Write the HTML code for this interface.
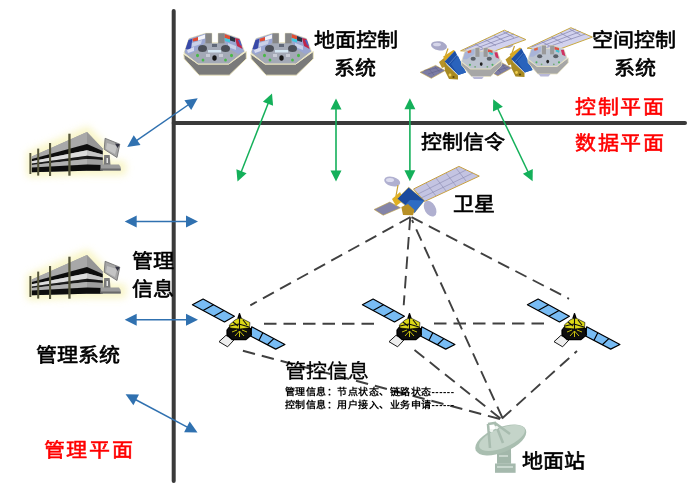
<!DOCTYPE html><html lang="zh-CN"><head><meta charset="utf-8"><style>
html,body{margin:0;padding:0;background:#fff;width:698px;height:490px;overflow:hidden}
body{position:relative;font-family:"Liberation Sans",sans-serif}
.t{position:absolute;white-space:nowrap;font-weight:400;-webkit-text-stroke:0.65px #000;color:#000;font-size:21px;line-height:21px;transform:scaleY(0.93);transform-origin:0 0}
.m{-webkit-text-stroke:0.3px #000}
.s{position:absolute;white-space:nowrap;font-weight:700;color:#000;font-size:10px;line-height:10px;letter-spacing:0.5px;transform:scaleY(0.9);transform-origin:0 0}
.r{color:#ff0000;-webkit-text-stroke:0.55px #ff0000;letter-spacing:1.6px}
svg{position:absolute;left:0;top:0}
</style></head><body>
<svg width="698" height="490" viewBox="0 0 698 490">
<defs><filter id="glow" x="-30%" y="-50%" width="160%" height="200%"><feGaussianBlur stdDeviation="3.5"/></filter>
<filter id="soft" x="-5%" y="-5%" width="110%" height="110%"><feGaussianBlur stdDeviation="0.4"/></filter></defs>
<line x1="173.7" y1="11" x2="173.7" y2="481" stroke="#3a3a3a" stroke-width="4" stroke-linecap="round"/>
<line x1="173.7" y1="123" x2="685" y2="123" stroke="#3a3a3a" stroke-width="4" stroke-linecap="round"/>
<line x1="135.4" y1="141.3" x2="189.5" y2="104.0" stroke="#3071b0" stroke-width="1.5"/><polygon points="197.7,98.3 191.2,110.1 184.4,100.2" fill="#3071b0"/><polygon points="127.2,147.0 133.7,135.2 140.5,145.1" fill="#3071b0"/>
<line x1="134.7" y1="221.6" x2="188.0" y2="221.6" stroke="#3071b0" stroke-width="1.5"/><polygon points="198.0,221.6 186.0,227.6 186.0,215.6" fill="#3071b0"/><polygon points="124.7,221.6 136.7,215.6 136.7,227.6" fill="#3071b0"/>
<line x1="134.7" y1="319.8" x2="188.0" y2="319.8" stroke="#3071b0" stroke-width="1.5"/><polygon points="198.0,319.8 186.0,325.8 186.0,313.8" fill="#3071b0"/><polygon points="124.7,319.8 136.7,313.8 136.7,325.8" fill="#3071b0"/>
<line x1="134.4" y1="399.0" x2="188.7" y2="427.8" stroke="#3071b0" stroke-width="1.5"/><polygon points="197.5,432.5 184.1,432.2 189.7,421.6" fill="#3071b0"/><polygon points="125.6,394.3 139.0,394.6 133.4,405.2" fill="#3071b0"/>
<line x1="240.8" y1="173.1" x2="268.7" y2="101.9" stroke="#14b05a" stroke-width="1.5"/><polygon points="272.0,93.5 273.1,105.7 262.9,101.7" fill="#14b05a"/><polygon points="237.5,181.5 236.4,169.3 246.6,173.3" fill="#14b05a"/>
<line x1="336.0" y1="172.5" x2="336.0" y2="107.5" stroke="#14b05a" stroke-width="1.6"/><polygon points="336.0,98.5 341.5,109.5 330.5,109.5" fill="#14b05a"/><polygon points="336.0,181.5 330.5,170.5 341.5,170.5" fill="#14b05a"/>
<line x1="409.9" y1="172.3" x2="409.9" y2="107.3" stroke="#14b05a" stroke-width="1.6"/><polygon points="409.9,98.3 415.4,109.3 404.4,109.3" fill="#14b05a"/><polygon points="409.9,181.3 404.4,170.3 415.4,170.3" fill="#14b05a"/>
<line x1="528.7" y1="173.2" x2="497.1" y2="107.3" stroke="#14b05a" stroke-width="1.5"/><polygon points="493.2,99.2 502.9,106.7 493.0,111.5" fill="#14b05a"/><polygon points="532.6,181.3 522.9,173.8 532.8,169.0" fill="#14b05a"/>
<line x1="410.5" y1="217" x2="250.3" y2="305.3" stroke="#404040" stroke-width="1.9" stroke-dasharray="12.5,7" fill="none"/>
<line x1="410.2" y1="217.6" x2="403.7" y2="305.3" stroke="#404040" stroke-width="1.9" stroke-dasharray="12.5,7" fill="none"/>
<line x1="411.5" y1="217.2" x2="569" y2="298.8" stroke="#404040" stroke-width="1.9" stroke-dasharray="12.5,7" fill="none"/>
<line x1="502.5" y1="418" x2="412" y2="220" stroke="#404040" stroke-width="1.9" stroke-dasharray="12.5,7" fill="none"/>
<line x1="264" y1="323.7" x2="381" y2="323.7" stroke="#404040" stroke-width="1.9" stroke-dasharray="12.5,7" fill="none"/>
<line x1="434" y1="323.5" x2="546" y2="323.5" stroke="#404040" stroke-width="1.9" stroke-dasharray="12.5,7" fill="none"/>
<line x1="500" y1="419" x2="240" y2="350" stroke="#404040" stroke-width="1.9" stroke-dasharray="12.5,7" fill="none"/>
<line x1="500.5" y1="418.5" x2="414.5" y2="350" stroke="#404040" stroke-width="1.9" stroke-dasharray="12.5,7" fill="none"/>
<line x1="502" y1="418.5" x2="577" y2="351" stroke="#404040" stroke-width="1.9" stroke-dasharray="12.5,7" fill="none"/>
<g filter="url(#soft)">
<g transform="translate(180,28)">
<polygon points="3.7,26 4.2,30.8 19.1,47.2 49.3,47.2 66.3,30.8 66.3,23.5 48.8,36 18,36" fill="#7a7a7a" stroke="#ece6c2" stroke-width="1"/>
<polygon points="4,25 9,10.6 25.5,5.3 31.8,5.3 31.8,14.8 38.2,14.8 38.2,5.3 44.5,5.3 59.4,10.6 64.5,23.5 48.8,36 18,36" fill="#a3a9b6" stroke="#ece6c2" stroke-width="1"/>
<polygon points="4.5,24 9,10.8 25.5,5.6 25.5,14 19,21 9,27" fill="#9aa6d2"/>
<polygon points="5.5,21 8.5,12 12.5,10.8 10.5,22" fill="#3848a8"/>
<polygon points="12.5,10.8 18,9 18,12.5 13,13.5" fill="#e04a30"/>
<polygon points="18,9 25,6.5 25,10.5 18,12.5" fill="#f4f4fa"/>
<polygon points="12,15 22,12 21,16 12,19" fill="#c8d0e8"/>
<polygon points="7,22 14,19 14,23 8,25" fill="#d8dcf0"/>
<polygon points="44.5,5.6 59.4,10.8 64,23.5 58,26 50,21 44.5,14" fill="#9aa6d2"/>
<polygon points="44.5,6 50,8 50,11.5 44.5,10" fill="#e05030"/>
<polygon points="44.5,10 50,11.5 50,14.5 45,13" fill="#40c8e0"/>
<polygon points="50,8 55,10 55,14 50,12.5" fill="#2a3040"/>
<polygon points="55,10 59.4,11 62.5,21 57,18" fill="#c02848"/>
<polygon points="58,12 60,12 62,18 60,17" fill="#5060c0"/>
<polygon points="48,15 56,18 56,22 48,19" fill="#c8d0e8"/>
<rect x="25.5" y="5.3" width="6.3" height="10" fill="#868686"/>
<rect x="38.2" y="5.3" width="6.3" height="10" fill="#868686"/>
<ellipse cx="22.5" cy="20.5" rx="4.5" ry="3.6" fill="#4c5058"/>
<ellipse cx="45.5" cy="20.5" rx="4.5" ry="3.6" fill="#4c5058"/>
<rect x="32" y="16" width="5" height="3" fill="#606878"/>
<ellipse cx="34.5" cy="30" rx="2.2" ry="2.7" fill="#151515"/>
<rect x="28" y="22" width="13" height="2.5" fill="#d4e6f2"/>
<ellipse cx="17.5" cy="27.5" rx="1.5" ry="1.8" fill="#48b848"/>
<ellipse cx="23" cy="32" rx="1.4" ry="1.6" fill="#48b848"/>
<ellipse cx="45.5" cy="32" rx="1.4" ry="1.6" fill="#48b848"/>
<ellipse cx="51.5" cy="27.5" rx="1.5" ry="1.8" fill="#48b848"/>
<rect x="26" y="26" width="4" height="3" fill="#c8ccd6"/>
<rect x="39" y="26" width="4" height="3" fill="#c8ccd6"/>
</g>
<g transform="translate(247,28)">
<polygon points="3.7,26 4.2,30.8 19.1,47.2 49.3,47.2 66.3,30.8 66.3,23.5 48.8,36 18,36" fill="#7a7a7a" stroke="#ece6c2" stroke-width="1"/>
<polygon points="4,25 9,10.6 25.5,5.3 31.8,5.3 31.8,14.8 38.2,14.8 38.2,5.3 44.5,5.3 59.4,10.6 64.5,23.5 48.8,36 18,36" fill="#a3a9b6" stroke="#ece6c2" stroke-width="1"/>
<polygon points="4.5,24 9,10.8 25.5,5.6 25.5,14 19,21 9,27" fill="#9aa6d2"/>
<polygon points="5.5,21 8.5,12 12.5,10.8 10.5,22" fill="#3848a8"/>
<polygon points="12.5,10.8 18,9 18,12.5 13,13.5" fill="#e04a30"/>
<polygon points="18,9 25,6.5 25,10.5 18,12.5" fill="#f4f4fa"/>
<polygon points="12,15 22,12 21,16 12,19" fill="#c8d0e8"/>
<polygon points="7,22 14,19 14,23 8,25" fill="#d8dcf0"/>
<polygon points="44.5,5.6 59.4,10.8 64,23.5 58,26 50,21 44.5,14" fill="#9aa6d2"/>
<polygon points="44.5,6 50,8 50,11.5 44.5,10" fill="#e05030"/>
<polygon points="44.5,10 50,11.5 50,14.5 45,13" fill="#40c8e0"/>
<polygon points="50,8 55,10 55,14 50,12.5" fill="#2a3040"/>
<polygon points="55,10 59.4,11 62.5,21 57,18" fill="#c02848"/>
<polygon points="58,12 60,12 62,18 60,17" fill="#5060c0"/>
<polygon points="48,15 56,18 56,22 48,19" fill="#c8d0e8"/>
<rect x="25.5" y="5.3" width="6.3" height="10" fill="#868686"/>
<rect x="38.2" y="5.3" width="6.3" height="10" fill="#868686"/>
<ellipse cx="22.5" cy="20.5" rx="4.5" ry="3.6" fill="#4c5058"/>
<ellipse cx="45.5" cy="20.5" rx="4.5" ry="3.6" fill="#4c5058"/>
<rect x="32" y="16" width="5" height="3" fill="#606878"/>
<ellipse cx="34.5" cy="30" rx="2.2" ry="2.7" fill="#151515"/>
<rect x="28" y="22" width="13" height="2.5" fill="#d4e6f2"/>
<ellipse cx="17.5" cy="27.5" rx="1.5" ry="1.8" fill="#48b848"/>
<ellipse cx="23" cy="32" rx="1.4" ry="1.6" fill="#48b848"/>
<ellipse cx="45.5" cy="32" rx="1.4" ry="1.6" fill="#48b848"/>
<ellipse cx="51.5" cy="27.5" rx="1.5" ry="1.8" fill="#48b848"/>
<rect x="26" y="26" width="4" height="3" fill="#c8ccd6"/>
<rect x="39" y="26" width="4" height="3" fill="#c8ccd6"/>
</g>
<g transform="translate(20,125)">
<polygon points="11,30 67,6 84,23 84,40 102,40 102,46 67,46 11,48" fill="#f5f0a8" stroke="#f5f0a8" stroke-width="9" stroke-linejoin="round" filter="url(#glow)" opacity="0.6"/>
<polygon points="11.8,31.5 67,7.1 82.7,23.6 82.7,45.7 67,45.7 11.8,47.3" fill="#9c9c9c"/>
<polygon points="11.8,31.5 67,7.1 82.7,23.6 82.7,26 67,18.9 11.8,33.9" fill="#a8a8a8"/>
<polygon points="11.8,33.9 67,18.9 82.7,26 82.7,29.5 67,25.2 11.8,36.2" fill="#111"/>
<polygon points="11.8,36.2 67,25.2 82.7,29.5 82.7,32.5 67,30.7 11.8,38.6" fill="#dcdcdc"/>
<polygon points="11.8,38.6 67,30.7 82.7,32.5 82.7,35 67,34 11.8,40" fill="#1a1a1a"/>
<polygon points="11.8,40 67,34 82.7,35 82.7,40 67,39.4 11.8,42.6" fill="#b0b0b0"/>
<polygon points="11.8,42.6 67,39.4 82.7,40 82.7,45.7 67,45.7 11.8,47.3" fill="#111"/>
<polygon points="67,7.1 82.7,23.6 82.7,45.7 67,45.7" fill="#000" opacity="0.1"/>
<rect x="9.4" y="28" width="1.9" height="21" fill="#55553a"/>
<rect x="17.2" y="23.6" width="2" height="27" fill="#55553a"/>
<rect x="29" y="18" width="2.1" height="33" fill="#55553a"/>
<rect x="48.3" y="8.7" width="2.3" height="42" fill="#55553a"/>
<polygon points="84.2,30 89.7,30 90.5,40 83.5,40" fill="#7a7a7a"/>
<rect x="86.5" y="33" width="1.5" height="5" fill="#e8e8e8"/>
<polygon points="80.5,39.5 99,39.5 100.7,42 100.7,45.4 80.5,45.4" fill="#9c9c9c"/>
<rect x="80.5" y="43.5" width="20.2" height="2" fill="#6a6a6a"/>
<polygon points="85.1,13.3 99.8,19.2 97,32.5 84.2,24.3" fill="#a6a6a6" stroke="#6a6a6a" stroke-width="0.8"/>
<polygon points="87,18 97,21 95,29 86,24" fill="#c4c4c4"/>
<polygon points="95,18.5 99.8,19.2 97.5,23" fill="#303040"/>
</g>
<g transform="translate(20,248)">
<polygon points="11,30 67,6 84,23 84,40 102,40 102,46 67,46 11,48" fill="#f5f0a8" stroke="#f5f0a8" stroke-width="9" stroke-linejoin="round" filter="url(#glow)" opacity="0.6"/>
<polygon points="11.8,31.5 67,7.1 82.7,23.6 82.7,45.7 67,45.7 11.8,47.3" fill="#9c9c9c"/>
<polygon points="11.8,31.5 67,7.1 82.7,23.6 82.7,26 67,18.9 11.8,33.9" fill="#a8a8a8"/>
<polygon points="11.8,33.9 67,18.9 82.7,26 82.7,29.5 67,25.2 11.8,36.2" fill="#111"/>
<polygon points="11.8,36.2 67,25.2 82.7,29.5 82.7,32.5 67,30.7 11.8,38.6" fill="#dcdcdc"/>
<polygon points="11.8,38.6 67,30.7 82.7,32.5 82.7,35 67,34 11.8,40" fill="#1a1a1a"/>
<polygon points="11.8,40 67,34 82.7,35 82.7,40 67,39.4 11.8,42.6" fill="#b0b0b0"/>
<polygon points="11.8,42.6 67,39.4 82.7,40 82.7,45.7 67,45.7 11.8,47.3" fill="#111"/>
<polygon points="67,7.1 82.7,23.6 82.7,45.7 67,45.7" fill="#000" opacity="0.1"/>
<rect x="9.4" y="28" width="1.9" height="21" fill="#55553a"/>
<rect x="17.2" y="23.6" width="2" height="27" fill="#55553a"/>
<rect x="29" y="18" width="2.1" height="33" fill="#55553a"/>
<rect x="48.3" y="8.7" width="2.3" height="42" fill="#55553a"/>
<polygon points="84.2,30 89.7,30 90.5,40 83.5,40" fill="#7a7a7a"/>
<rect x="86.5" y="33" width="1.5" height="5" fill="#e8e8e8"/>
<polygon points="80.5,39.5 99,39.5 100.7,42 100.7,45.4 80.5,45.4" fill="#9c9c9c"/>
<rect x="80.5" y="43.5" width="20.2" height="2" fill="#6a6a6a"/>
<polygon points="85.1,13.3 99.8,19.2 97,32.5 84.2,24.3" fill="#a6a6a6" stroke="#6a6a6a" stroke-width="0.8"/>
<polygon points="87,18 97,21 95,29 86,24" fill="#c4c4c4"/>
<polygon points="95,18.5 99.8,19.2 97.5,23" fill="#303040"/>
</g>
<g transform="translate(66.5,-2.5)">
<polygon points="460.6,50.8 504.4,30.2 525.9,39.6 490.6,52.5" fill="#d2d2ee" stroke="#c8a840" stroke-width="1"/>
<path d="M465,49.5 L509,31.6 M469,51 L514,34 M474,52 L519,36.5 M475,44 L486,50 M485,39.5 L496,45.5 M494,35.5 L505,41.5 M503,31.5 L514,37.5" stroke="#8c8cb4" stroke-width="0.8" fill="none"/>
<polygon points="420.2,72.3 435.6,65.4 445.1,70.6 431.3,78.3" fill="#7c7ca4" stroke="#c0a040" stroke-width="0.6"/>
<path d="M424,70.5 L439,67.5 M428,74 L442,69.5 M429,69 L434,75 M435,67 L440,72.5" stroke="#5c5c84" stroke-width="0.5" fill="none"/>
<ellipse cx="439" cy="45.8" rx="8.1" ry="4.5" transform="rotate(10 439 45.8)" fill="#a8a8c8"/>
<ellipse cx="437" cy="44.5" rx="4" ry="1.8" fill="#d6d6ea"/>
<path d="M448,48.5 L445.5,55.5" stroke="#c8a030" stroke-width="1.2"/>
<polygon points="443.2,56.5 453.5,50 455,51 444.8,61.5" fill="#d8a820"/>
<polygon points="439,62 444,58 447,66 442,68" fill="#b89428"/>
<polygon points="444,62 458,75.5 458,79.4 449,79 445,71" fill="#a88a24"/>
<circle cx="450" cy="75" r="1.4" fill="#f0d050"/>
<circle cx="453.5" cy="77" r="1.1" fill="#5a4810"/>
<polygon points="444.6,61.4 454.9,50.7 466,72.6 458.3,75.1" fill="#1f4fa6"/>
<polygon points="451,64 458,56 466,72.6 458.3,75.1" fill="#2a64bc"/>
<path d="M449,64 L457,55" stroke="#6a9ad8" stroke-width="0.6"/>
<g transform="translate(459,44.4) scale(0.644,0.68)">
<polygon points="3.7,26 4.2,30.8 19.1,47.2 49.3,47.2 66.3,30.8 66.3,23.5 48.8,36 18,36" fill="#a6a6a6" stroke="#e4dfc0" stroke-width="1.2"/>
<polygon points="4,25 9,10.6 25.5,5.3 31.8,5.3 31.8,10 38.2,10 38.2,5.3 44.5,5.3 59.4,10.6 64.5,23.5 48.8,36 18,36" fill="#bcc4d0" stroke="#e4dfc0" stroke-width="1.2"/>
<polygon points="6,22 9.5,11 24,6.5 24,14 12,22" fill="#a8b4d8"/>
<polygon points="13,10 19,8 19,12 14,13" fill="#e06040"/>
<polygon points="45,7 52,9 52,13 45,11" fill="#e05040"/>
<polygon points="47,11 53,13 52,16 47,14" fill="#40c0d0"/>
<polygon points="55,12 59.5,11.5 62,21 57,19" fill="#d03060"/>
<rect x="25.5" y="5.3" width="6.3" height="13" fill="#9a9a9a"/>
<rect x="38.2" y="5.3" width="6.3" height="13" fill="#9a9a9a"/>
<ellipse cx="22" cy="21" rx="4" ry="3" fill="#5a6068"/>
<ellipse cx="47" cy="21" rx="4" ry="3" fill="#5a6068"/>
<ellipse cx="34.5" cy="29" rx="2.2" ry="2.6" fill="#202020"/>
<circle cx="17" cy="30" r="1.6" fill="#50b060"/>
<circle cx="52" cy="30" r="1.6" fill="#50b060"/>
<circle cx="25" cy="33" r="1.4" fill="#70a870"/>
<circle cx="44" cy="33" r="1.4" fill="#70a870"/>
</g>
<polygon points="472,76.6 484,76.6 482,79 474,79" fill="#b8b8d8"/>
</g>

<polygon points="460.6,50.8 504.4,30.2 525.9,39.6 490.6,52.5" fill="#d2d2ee" stroke="#c8a840" stroke-width="1"/>
<path d="M465,49.5 L509,31.6 M469,51 L514,34 M474,52 L519,36.5 M475,44 L486,50 M485,39.5 L496,45.5 M494,35.5 L505,41.5 M503,31.5 L514,37.5" stroke="#8c8cb4" stroke-width="0.8" fill="none"/>
<polygon points="420.2,72.3 435.6,65.4 445.1,70.6 431.3,78.3" fill="#7c7ca4" stroke="#c0a040" stroke-width="0.6"/>
<path d="M424,70.5 L439,67.5 M428,74 L442,69.5 M429,69 L434,75 M435,67 L440,72.5" stroke="#5c5c84" stroke-width="0.5" fill="none"/>
<ellipse cx="439" cy="45.8" rx="8.1" ry="4.5" transform="rotate(10 439 45.8)" fill="#a8a8c8"/>
<ellipse cx="437" cy="44.5" rx="4" ry="1.8" fill="#d6d6ea"/>
<path d="M448,48.5 L445.5,55.5" stroke="#c8a030" stroke-width="1.2"/>
<polygon points="443.2,56.5 453.5,50 455,51 444.8,61.5" fill="#d8a820"/>
<polygon points="439,62 444,58 447,66 442,68" fill="#b89428"/>
<polygon points="444,62 458,75.5 458,79.4 449,79 445,71" fill="#a88a24"/>
<circle cx="450" cy="75" r="1.4" fill="#f0d050"/>
<circle cx="453.5" cy="77" r="1.1" fill="#5a4810"/>
<polygon points="444.6,61.4 454.9,50.7 466,72.6 458.3,75.1" fill="#1f4fa6"/>
<polygon points="451,64 458,56 466,72.6 458.3,75.1" fill="#2a64bc"/>
<path d="M449,64 L457,55" stroke="#6a9ad8" stroke-width="0.6"/>
<g transform="translate(459,44.4) scale(0.644,0.68)">
<polygon points="3.7,26 4.2,30.8 19.1,47.2 49.3,47.2 66.3,30.8 66.3,23.5 48.8,36 18,36" fill="#a6a6a6" stroke="#e4dfc0" stroke-width="1.2"/>
<polygon points="4,25 9,10.6 25.5,5.3 31.8,5.3 31.8,10 38.2,10 38.2,5.3 44.5,5.3 59.4,10.6 64.5,23.5 48.8,36 18,36" fill="#bcc4d0" stroke="#e4dfc0" stroke-width="1.2"/>
<polygon points="6,22 9.5,11 24,6.5 24,14 12,22" fill="#a8b4d8"/>
<polygon points="13,10 19,8 19,12 14,13" fill="#e06040"/>
<polygon points="45,7 52,9 52,13 45,11" fill="#e05040"/>
<polygon points="47,11 53,13 52,16 47,14" fill="#40c0d0"/>
<polygon points="55,12 59.5,11.5 62,21 57,19" fill="#d03060"/>
<rect x="25.5" y="5.3" width="6.3" height="13" fill="#9a9a9a"/>
<rect x="38.2" y="5.3" width="6.3" height="13" fill="#9a9a9a"/>
<ellipse cx="22" cy="21" rx="4" ry="3" fill="#5a6068"/>
<ellipse cx="47" cy="21" rx="4" ry="3" fill="#5a6068"/>
<ellipse cx="34.5" cy="29" rx="2.2" ry="2.6" fill="#202020"/>
<circle cx="17" cy="30" r="1.6" fill="#50b060"/>
<circle cx="52" cy="30" r="1.6" fill="#50b060"/>
<circle cx="25" cy="33" r="1.4" fill="#70a870"/>
<circle cx="44" cy="33" r="1.4" fill="#70a870"/>
</g>
<polygon points="472,76.6 484,76.6 482,79 474,79" fill="#b8b8d8"/>


<polygon points="413.5,189 458.9,166.4 479.3,176.1 424.5,201.5" fill="#c4c4e2" stroke="#c8a040" stroke-width="1"/>
<path d="M418,194 L466,170 M421,198 L473,173 M426,183 L436,196 M436,178 L446,191 M446,173 L456,186 M456,168 L466,181" stroke="#8a8ab0" stroke-width="0.6" fill="none"/>
<polygon points="374.1,209.5 389.8,202.1 400.5,207.8 383.2,215.2" fill="#8484a8" stroke="#c0a040" stroke-width="0.6"/>
<ellipse cx="392.2" cy="181.5" rx="8.2" ry="4.6" transform="rotate(15 392.2 181.5)" fill="#b0b0d0"/>
<ellipse cx="390" cy="180" rx="4" ry="2" fill="#dcdcee"/>
<ellipse cx="430.1" cy="208.7" rx="8.5" ry="5.5" transform="rotate(60 430.1 208.7)" fill="#b0b0d0"/>
<path d="M398,185 L396,196" stroke="#c8a030" stroke-width="1.2"/>
<polygon points="392,199 400,192 404,200 396,206" fill="#e0b020"/>
<polygon points="397.2,198.8 408.7,187.2 424.4,200.4 414.5,212.8" fill="#1d4c9e" stroke="#d8b040" stroke-width="0.6"/>
<polygon points="410,200 424.4,200.4 414.5,212.8 404,206" fill="#2f6cc4"/>
<polygon points="401.3,207 408,204 414.5,210 413,215.2 403,215" fill="#b89028"/>

<g transform="translate(185,285)"><g stroke="#000" stroke-width="1.2" stroke-linejoin="round">
<polygon points="18.1,14 49.4,31.3 39.5,37 7.4,19.8" fill="#78bcf4"/><path d="M28.5,19.8 L18.1,25.5 M39.0,25.5 L28.8,31.3 " fill="none"/>
<polygon points="66.7,41.8 99.9,59.5 90.7,64.1 65.5,51" fill="#78bcf4"/><path d="M77.8,47.7 L73.9,55.4 M88.8,53.6 L82.3,59.7 " fill="none"/>
<polygon points="34,56.7 40.9,50.4 49.5,54.4 42.6,61.8" fill="#eeeeee" stroke-width="0.9"/>
<polygon points="42,45 46,40 60,39.5 66,44 66.4,50 61,54.6 47,54.6 42,50" fill="#0a0a0a"/>
<polygon points="44.3,40 50,35 55,32.6 64.9,37.5 64.5,42.8 55,44 45,43" fill="#dcd818" stroke-width="0.6"/>
<polygon points="53,33 54.5,28.5 56,33" fill="#111"/><path d="M54.5,31 L54.5,44 M45,41 L54,39 L64,42 M48,37 L53,41 M58,35 L62,40" stroke="#111" stroke-width="1.1" fill="none"/>
<path d="M47,47 L52,45 M57,45 L62,47 M50,51 L54.5,46 L59,51 M54.5,46 L54.5,52" stroke="#c8c010" stroke-width="1" fill="none"/>
</g></g>
<g transform="translate(355,285)"><g stroke="#000" stroke-width="1.2" stroke-linejoin="round">
<polygon points="18.1,14 49.4,31.3 39.5,37 7.4,19.8" fill="#78bcf4"/><path d="M28.5,19.8 L18.1,25.5 M39.0,25.5 L28.8,31.3 " fill="none"/>
<polygon points="66.7,41.8 99.9,59.5 90.7,64.1 65.5,51" fill="#78bcf4"/><path d="M77.8,47.7 L73.9,55.4 M88.8,53.6 L82.3,59.7 " fill="none"/>
<polygon points="34,56.7 40.9,50.4 49.5,54.4 42.6,61.8" fill="#eeeeee" stroke-width="0.9"/>
<polygon points="42,45 46,40 60,39.5 66,44 66.4,50 61,54.6 47,54.6 42,50" fill="#0a0a0a"/>
<polygon points="44.3,40 50,35 55,32.6 64.9,37.5 64.5,42.8 55,44 45,43" fill="#dcd818" stroke-width="0.6"/>
<polygon points="53,33 54.5,28.5 56,33" fill="#111"/><path d="M54.5,31 L54.5,44 M45,41 L54,39 L64,42 M48,37 L53,41 M58,35 L62,40" stroke="#111" stroke-width="1.1" fill="none"/>
<path d="M47,47 L52,45 M57,45 L62,47 M50,51 L54.5,46 L59,51 M54.5,46 L54.5,52" stroke="#c8c010" stroke-width="1" fill="none"/>
</g></g>
<g transform="translate(520,285)"><g stroke="#000" stroke-width="1.2" stroke-linejoin="round">
<polygon points="18.1,14 49.4,31.3 39.5,37 7.4,19.8" fill="#78bcf4"/><path d="M28.5,19.8 L18.1,25.5 M39.0,25.5 L28.8,31.3 " fill="none"/>
<polygon points="66.7,41.8 99.9,59.5 90.7,64.1 65.5,51" fill="#78bcf4"/><path d="M77.8,47.7 L73.9,55.4 M88.8,53.6 L82.3,59.7 " fill="none"/>
<polygon points="34,56.7 40.9,50.4 49.5,54.4 42.6,61.8" fill="#eeeeee" stroke-width="0.9"/>
<polygon points="42,45 46,40 60,39.5 66,44 66.4,50 61,54.6 47,54.6 42,50" fill="#0a0a0a"/>
<polygon points="44.3,40 50,35 55,32.6 64.9,37.5 64.5,42.8 55,44 45,43" fill="#dcd818" stroke-width="0.6"/>
<polygon points="53,33 54.5,28.5 56,33" fill="#111"/><path d="M54.5,31 L54.5,44 M45,41 L54,39 L64,42 M48,37 L53,41 M58,35 L62,40" stroke="#111" stroke-width="1.1" fill="none"/>
<path d="M47,47 L52,45 M57,45 L62,47 M50,51 L54.5,46 L59,51 M54.5,46 L54.5,52" stroke="#c8c010" stroke-width="1" fill="none"/>
</g></g>
<g transform="translate(470,415)">
<polygon points="27,34 41,34 41.1,48.8 27,48.8" fill="#a2b7aa"/>
<rect x="29" y="40" width="9" height="2" fill="#c8d6cd"/>
<rect x="25" y="48.5" width="20.6" height="9.3" fill="#a5b9ad"/>
<rect x="27" y="51" width="16" height="2" fill="#c9d8cf"/>
<ellipse cx="30.8" cy="25" rx="27.1" ry="12.5" transform="rotate(-22.3 30.8 25)" fill="#a9beb0"/>
<ellipse cx="32" cy="23" rx="24.5" ry="9.8" transform="rotate(-22.3 32 23)" fill="#c4d4c9"/>
<path d="M18,9 L25,8 L33,28 M25,8 L40,19 M18,9 L20,33" stroke="#a8bcaf" stroke-width="2.6" fill="none"/>
<circle cx="21.5" cy="15.5" r="1.7" fill="#eef4f0"/>
<circle cx="26.5" cy="12.5" r="1.7" fill="#eef4f0"/>
</g>
</g>
</svg>

<div class="t " style="left:313.6px;top:30px">地面控制</div>
<div class="t " style="left:334.4px;top:58px">系统</div>
<div class="t " style="left:592.2px;top:30px">空间控制</div>
<div class="t " style="left:614px;top:58px">系统</div>
<div class="t r" style="left:575px;top:96.5px">控制平面</div>
<div class="t r" style="left:575px;top:133px">数据平面</div>
<div class="t " style="left:420.6px;top:132px">控制信令</div>
<div class="t " style="left:452.5px;top:194.4px">卫星</div>
<div class="t " style="left:132px;top:251px">管理</div>
<div class="t " style="left:132px;top:279px">信息</div>
<div class="t " style="left:35.8px;top:345.3px">管理系统</div>
<div class="t r" style="left:43.9px;top:440px">管理平面</div>
<div class="t m" style="left:284.5px;top:361px">管控信息</div>
<div class="t " style="left:522px;top:450.7px">地面站</div>
<div class="s" style="left:284.5px;top:388px">管理信息：节点状态、链路状态------</div>
<div class="s" style="left:284.5px;top:400.5px">控制信息：用户接入、业务申请------</div>
</body></html>
